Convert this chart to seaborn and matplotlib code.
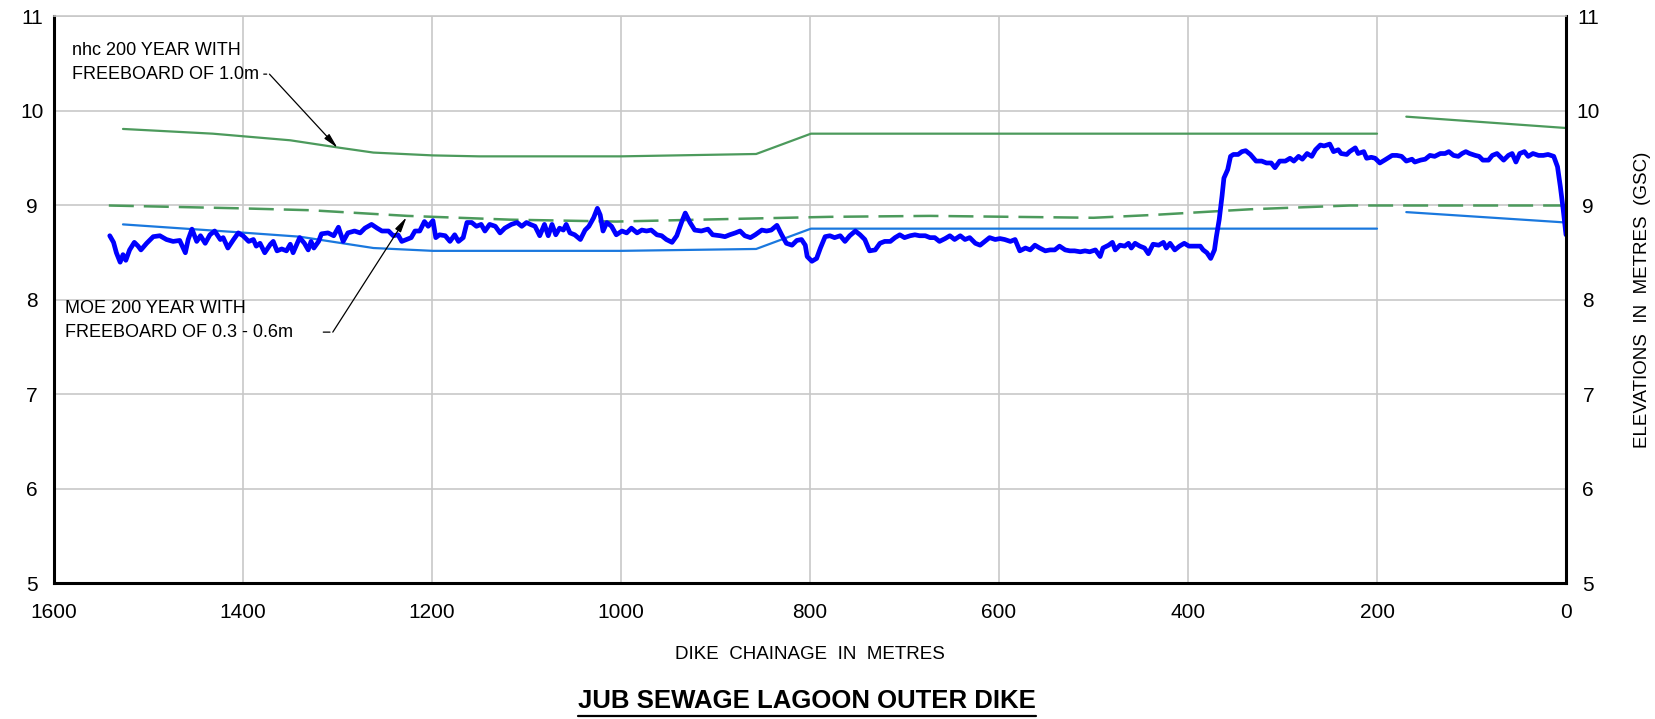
import matplotlib
matplotlib.use("Agg")
import matplotlib.pyplot as plt
import seaborn as sns
from matplotlib.lines import Line2D

# nhc 200 year water level + 1.0 m freeboard (solid green)
nhc_fb_ch = [1527, 1432, 1350, 1297, 1262, 1199, 1150, 1000, 857, 799, 200]
nhc_fb_el = [9.81, 9.76, 9.69, 9.61, 9.56, 9.53, 9.52, 9.52, 9.545, 9.76, 9.76]
nhc_fb_east_ch = [169, 0]
nhc_fb_east_el = [9.94, 9.82]

# nhc 200 year water level (thin blue)
nhc_wl_ch = [1527, 1410, 1340, 1262, 1199, 1000, 857, 799, 200]
nhc_wl_el = [8.80, 8.72, 8.67, 8.55, 8.52, 8.52, 8.54, 8.755, 8.755]
nhc_wl_east_ch = [169, 0]
nhc_wl_east_el = [8.93, 8.82]

# MOE 200 year with freeboard 0.3 - 0.6 m (dashed green)
moe_ch = [1542, 1403, 1329, 1226, 1117, 1005, 872, 779, 673, 500, 437, 334, 229, 0]
moe_el = [9.00, 8.97, 8.95, 8.89, 8.85, 8.83, 8.86, 8.88, 8.89, 8.87, 8.90, 8.96, 9.00, 9.00]

# surveyed dike crest profile (thick blue)
dike_ch = [1541, 1537, 1534, 1530, 1527, 1524, 1520, 1515, 1511, 1508, 1502, 1495, 1488,
           1481, 1474, 1467, 1461, 1458, 1454, 1449, 1445, 1440, 1435, 1430, 1424, 1421,
           1416, 1410, 1405, 1400, 1394, 1389, 1386, 1382, 1377, 1371, 1368, 1364, 1359,
           1354, 1350, 1347, 1340, 1335, 1331, 1328, 1325, 1320, 1317, 1310, 1304, 1299,
           1294, 1289, 1282, 1276, 1271, 1264, 1258, 1253, 1246, 1241, 1236, 1232, 1227,
           1222, 1218, 1213, 1208, 1204, 1199, 1196, 1192, 1186, 1181, 1176, 1172, 1167,
           1163, 1158, 1153, 1148, 1144, 1139, 1133, 1128, 1123, 1116, 1110, 1105, 1100,
           1096, 1091, 1086, 1081, 1077, 1073, 1069, 1065, 1061, 1058, 1054, 1049, 1043,
           1038, 1034, 1029, 1025, 1022, 1019, 1015, 1010, 1005, 999, 994, 989, 983, 978,
           973, 968, 962, 957, 952, 946, 941, 936, 932, 927, 922, 915, 908, 903, 895, 890,
           885, 879, 874, 869, 863, 858, 851, 846, 841, 835, 830, 825, 819, 814, 809, 805,
           803, 798, 793, 789, 784, 779, 774, 768, 763, 758, 752, 747, 742, 737, 731, 726,
           721, 715, 710, 705, 700, 694, 689, 684, 678, 673, 668, 663, 657, 652, 647, 641,
           636, 631, 625, 620, 615, 610, 604, 599, 594, 588, 583, 578, 572, 567, 562, 557,
           551, 546, 541, 536, 530, 525, 520, 514, 509, 504, 498, 493, 490, 484, 480, 477,
           472, 467, 463, 460, 456, 451, 446, 442, 437, 431, 426, 423, 419, 414, 409, 404,
           399, 393, 387, 384, 380, 376, 372, 370, 367, 364, 362, 358, 355, 352, 347, 343,
           339, 334, 328, 322, 317, 312, 308, 303, 297, 292, 288, 283, 279, 274, 269, 265,
           260, 256, 250, 246, 241, 238, 232, 229, 223, 220, 214, 211, 206, 202, 197, 192,
           184, 179, 174, 169, 163, 160, 154, 149, 144, 139, 133, 128, 124, 119, 114, 110,
           106, 102, 96, 92, 88, 82, 78, 73, 70, 66, 61, 57, 53, 49, 44, 40, 35, 29, 24,
           19, 13, 9, 6, 3, 0]
dike_el = [8.68, 8.61, 8.50, 8.40, 8.48, 8.42, 8.53, 8.61, 8.57, 8.53, 8.60, 8.67, 8.68,
           8.64, 8.62, 8.63, 8.50, 8.64, 8.75, 8.62, 8.68, 8.60, 8.69, 8.73, 8.64, 8.66,
           8.55, 8.64, 8.71, 8.68, 8.62, 8.64, 8.57, 8.60, 8.50, 8.59, 8.62, 8.52, 8.54,
           8.52, 8.59, 8.50, 8.66, 8.60, 8.53, 8.62, 8.55, 8.62, 8.70, 8.71, 8.68, 8.77,
           8.62, 8.71, 8.73, 8.71, 8.76, 8.80, 8.76, 8.73, 8.73, 8.68, 8.69, 8.62, 8.64,
           8.66, 8.73, 8.73, 8.83, 8.78, 8.84, 8.66, 8.69, 8.68, 8.62, 8.69, 8.62, 8.66,
           8.82, 8.82, 8.78, 8.80, 8.73, 8.80, 8.78, 8.71, 8.76, 8.80, 8.82, 8.78, 8.82,
           8.80, 8.78, 8.68, 8.80, 8.68, 8.80, 8.69, 8.76, 8.74, 8.80, 8.71, 8.69, 8.64,
           8.74, 8.78, 8.87, 8.97, 8.90, 8.73, 8.82, 8.78, 8.69, 8.73, 8.71, 8.76, 8.71, 8.74,
           8.73, 8.74, 8.69, 8.68, 8.64, 8.61, 8.68, 8.82, 8.92, 8.82, 8.74, 8.73, 8.75, 8.69, 8.68, 8.67,
           8.69, 8.71, 8.73, 8.68, 8.66, 8.69, 8.74, 8.73, 8.74, 8.79, 8.69, 8.60, 8.58, 8.63, 8.64, 8.58,
           8.46, 8.41, 8.44, 8.55, 8.67, 8.68, 8.66, 8.68, 8.62, 8.68, 8.73, 8.69, 8.64, 8.52, 8.53, 8.60,
           8.62, 8.62, 8.66, 8.69, 8.66, 8.68, 8.69, 8.68, 8.68, 8.66, 8.66, 8.62, 8.65, 8.68, 8.64, 8.68,
           8.64, 8.66, 8.60, 8.58, 8.62, 8.66, 8.64, 8.65, 8.64, 8.62, 8.64, 8.52, 8.55, 8.53, 8.58, 8.55,
           8.52, 8.53, 8.53, 8.57, 8.53, 8.52, 8.52, 8.51, 8.52, 8.51, 8.53, 8.46, 8.55, 8.58, 8.61, 8.53,
           8.58, 8.57, 8.60, 8.55, 8.60, 8.57, 8.55, 8.49, 8.59, 8.58, 8.61, 8.55, 8.60, 8.53, 8.57, 8.60,
           8.57, 8.57, 8.57, 8.53, 8.50, 8.44, 8.53, 8.67, 8.85, 9.10, 9.29, 9.38, 9.52, 9.54, 9.54, 9.57,
           9.58, 9.54, 9.47, 9.47, 9.45, 9.45, 9.40, 9.47, 9.47, 9.50, 9.47, 9.52, 9.49, 9.55, 9.52, 9.59,
           9.64, 9.63, 9.65, 9.57, 9.59, 9.55, 9.54, 9.57, 9.61, 9.55, 9.57, 9.50, 9.51, 9.50, 9.45, 9.48,
           9.53, 9.53, 9.52, 9.47, 9.49, 9.46, 9.48, 9.49, 9.53, 9.52, 9.55, 9.55, 9.57, 9.53, 9.52, 9.55,
           9.57, 9.55, 9.53, 9.52, 9.48, 9.48, 9.53, 9.55, 9.52, 9.48, 9.53, 9.55, 9.46, 9.55, 9.57, 9.52, 9.55, 9.53, 9.53,
           9.54, 9.52, 9.41, 9.20, 8.96, 8.69]

x_ticks = [1600, 1400, 1200, 1000, 800, 600, 400, 200, 0]
y_ticks = [5, 6, 7, 8, 9, 10, 11]

sns.set_style("white")
plt.rcParams["font.family"] = ["Liberation Sans", "DejaVu Sans"]
plt.rcParams["text.color"] = "black"
plt.rcParams["xtick.color"] = "black"
plt.rcParams["ytick.color"] = "black"

GREEN = "#4c9a5c"
LBLUE = "#1a78de"
BLUE = "#0000ff"
GRID = "#c8c8c8"

fig = plt.figure(figsize=(16.55, 7.19), dpi=100)
ax = fig.add_axes([0.03263, 0.18846, 0.91360, 0.78860])

sns.lineplot(x=nhc_fb_ch, y=nhc_fb_el, ax=ax, color=GREEN, lw=1.6, sort=False)
sns.lineplot(x=nhc_fb_east_ch, y=nhc_fb_east_el, ax=ax, color=GREEN, lw=1.6, sort=False)
sns.lineplot(x=nhc_wl_ch, y=nhc_wl_el, ax=ax, color=LBLUE, lw=1.6, sort=False)
sns.lineplot(x=nhc_wl_east_ch, y=nhc_wl_east_el, ax=ax, color=LBLUE, lw=1.6, sort=False)
sns.lineplot(x=moe_ch, y=moe_el, ax=ax, color=GREEN, lw=1.8, sort=False,
             linestyle=(0, (10, 4)))
sns.lineplot(x=dike_ch, y=dike_el, ax=ax, color=BLUE, lw=3.4, sort=False)

ax.set_xlim(1600, 0)
ax.set_ylim(5, 11)
ax.set_xticks(x_ticks)
ax.set_yticks(y_ticks)
ax.grid(True, color=GRID, lw=1.2)
ax.set_axisbelow(True)
ax.set_xlabel("")
ax.set_ylabel("")

ax.tick_params(axis="both", length=0, labelsize=15, colors="black")
ax.tick_params(axis="x", pad=14)
ax.tick_params(axis="y", labelleft=True, labelright=True, pad=16)
for t in ax.yaxis.get_major_ticks():
    t.label1.set_horizontalalignment("center")
    t.label2.set_horizontalalignment("center")

for side in ["left", "right", "bottom"]:
    ax.spines[side].set_color("black")
    ax.spines[side].set_linewidth(2.2)
ax.spines["top"].set_color(GRID)
ax.spines["top"].set_linewidth(1.2)

# annotations
ax.text(1581, 10.51, "nhc 200 YEAR WITH\nFREEBOARD OF 1.0m", fontsize=13,
        ha="left", va="center", linespacing=1.55)
ax.annotate("", xy=(1372, 10.39), xytext=(1381, 10.39),
            arrowprops=dict(arrowstyle="-", color="black", lw=0.9))
ax.annotate("", xy=(1300, 9.61), xytext=(1372, 10.39),
            arrowprops=dict(arrowstyle="-|>,head_length=0.9,head_width=0.2",
                            color="black", lw=0.9, shrinkA=0, shrinkB=0))

ax.text(1588, 7.78, "MOE 200 YEAR WITH\nFREEBOARD OF 0.3 - 0.6m", fontsize=13,
        ha="left", va="center", linespacing=1.55)
ax.annotate("", xy=(1305, 7.66), xytext=(1318, 7.66),
            arrowprops=dict(arrowstyle="-", color="black", lw=0.9))
ax.annotate("", xy=(1227, 8.875), xytext=(1305, 7.66),
            arrowprops=dict(arrowstyle="-|>,head_length=0.9,head_width=0.2",
                            color="black", lw=0.9, shrinkA=0, shrinkB=0))

# axis titles
fig.text(0.4894, 0.0904, "DIKE  CHAINAGE  IN  METRES", fontsize=13.5,
         ha="center", va="center")
fig.text(0.9925, 0.583, "ELEVATIONS  IN  METRES  (GSC)", fontsize=13.5,
         rotation=90, ha="center", va="center")
title = fig.text(0.4876, 0.025, "JUB SEWAGE LAGOON OUTER DIKE", fontsize=18.5,
                 fontweight="bold", ha="center", va="center")

fig.canvas.draw()
bb = title.get_window_extent(fig.canvas.get_renderer())
W, H = fig.bbox.width, fig.bbox.height
uy = (bb.y0 - 3) / H
fig.add_artist(Line2D([bb.x0 / W, bb.x1 / W], [uy, uy], color="black", lw=1.6,
                      transform=fig.transFigure))

fig.savefig("out.png", dpi=100)
